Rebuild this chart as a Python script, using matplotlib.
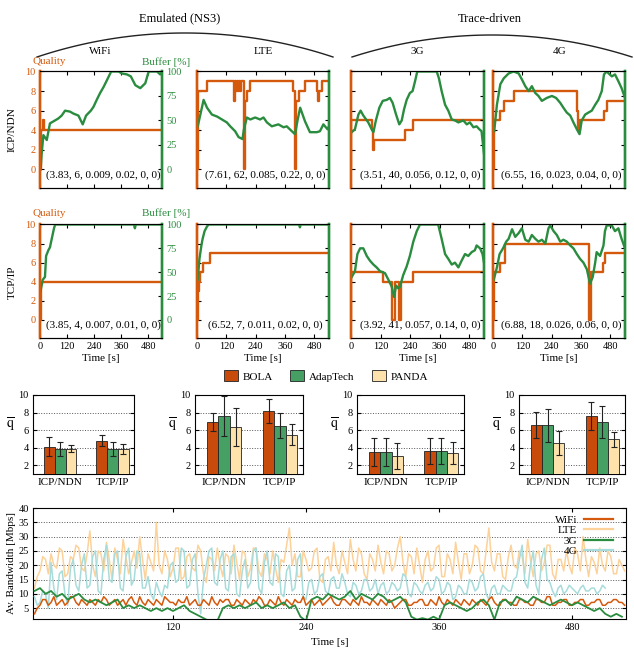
import numpy as np
import matplotlib.pyplot as plt
from matplotlib.lines import Line2D

plt.rcParams['font.family'] = ['Liberation Serif', 'DejaVu Serif']
plt.rcParams['mathtext.fontset'] = 'stix'

W, H = 634, 650

ORANGE = '#d4590c'
GREEN = '#2a8c3e'
BOLA_C = '#c84b0b'
ADAP_C = '#46a064'
PANDA_C = '#fde2ab'
LTE_C = '#fdd29a'
G4_C = '#a8dcdb'

# ---- quality (step) and buffer [%] traces, ICP/NDN row ----
wifi_icn_q_t = [0, 3, 13, 16]
wifi_icn_q = [0, 4, 5, 4]
wifi_icn_b_t = [3, 7, 15, 30, 44, 59, 81, 96, 111, 133, 148, 170, 189, 204, 225, 237,
                251, 266, 281, 296, 315, 348, 362, 385, 402, 422, 444, 466, 481, 518, 532, 540]
wifi_icn_b = [0, 15, 35, 30, 47, 49, 52, 55, 60, 59, 57, 55, 46, 55, 60, 64,
              71, 78, 84, 91, 100, 100, 98, 97, 95, 86, 83, 88, 100, 100, 97, 100]

lte_icn_q_t = [0, 3, 41, 150, 152, 156, 160, 164, 168, 172, 176, 182, 192, 196, 206, 218,
               394, 401, 405, 419, 442, 492, 496, 500, 510]
lte_icn_q = [0, 8, 9, 8, 7, 9, 8, 9, 8, 9, 8, 9, 0, 7, 8, 9,
             8, 0, 7, 8, 9, 8, 7, 8, 9]
lte_icn_b_t = [3, 27, 41, 61, 82, 102, 122, 136, 156, 170, 186, 192, 204, 218, 238, 258, 272,
               286, 306, 333, 354, 367, 388, 401, 412, 422, 442, 462, 490, 503, 517, 534, 540]
lte_icn_b = [44, 71, 63, 56, 54, 51, 48, 44, 39, 33, 31, 41, 53, 51, 53, 51, 53,
             48, 44, 46, 43, 44, 39, 36, 51, 63, 49, 38, 38, 39, 46, 41, 44]

g3_icn_q_t = [0, 2, 87, 91, 95, 219, 253]
g3_icn_q = [0, 5, 4, 2, 3, 4, 5]
g3_icn_b_t = [3, 16, 30, 39, 50, 70, 84, 91, 101, 115, 129, 145, 158, 169, 183, 196, 206, 215, 226, 239,
              250, 260, 269, 348, 357, 368, 382, 395, 409, 422, 436, 456, 470, 483, 497, 510, 521, 530, 540]
g3_icn_b = [38, 41, 56, 60, 55, 48, 41, 38, 50, 63, 70, 71, 73, 68, 56, 46, 50, 61, 71, 78,
            80, 90, 100, 100, 93, 80, 66, 60, 51, 50, 48, 50, 46, 48, 43, 44, 41, 39, 16]

g4_icn_q_t = [0, 5, 27, 44, 84, 345, 349, 356, 454, 465]
g4_icn_q = [0, 5, 6, 7, 8, 6, 4, 5, 6, 7]
g4_icn_b_t = [5, 16, 30, 44, 64, 84, 105, 118, 132, 146, 159, 173, 186, 200, 220, 241, 258, 275, 288,
              302, 316, 329, 343, 354, 363, 377, 390, 404, 418, 431, 445, 454, 465, 486, 499, 513, 526, 540]
g4_icn_b = [39, 66, 87, 93, 98, 100, 98, 92, 85, 80, 85, 78, 75, 70, 73, 75, 73, 68, 63,
            58, 55, 48, 41, 36, 50, 56, 58, 60, 66, 71, 80, 97, 100, 95, 97, 90, 83, 73]

# ---- TCP/IP row ----
wifi_tcp_q_t = [0, 3]
wifi_tcp_q = [0, 4]
wifi_tcp_b_t = [3, 12, 22, 27, 37, 44, 52, 62, 67, 416, 420, 424, 540]
wifi_tcp_b = [31, 42, 45, 67, 73, 76, 85, 96, 100, 100, 96, 100, 100]

lte_tcp_q_t = [0, 3, 7, 14, 23, 54]
lte_tcp_q = [0, 3, 4, 5, 6, 7]
lte_tcp_b_t = [3, 10, 18, 23, 31, 41, 48, 418, 421, 424, 540]
lte_tcp_b = [42, 64, 78, 85, 93, 98, 100, 100, 97, 100, 100]

g3_tcp_q_t = [0, 2, 131, 168, 180, 196, 203, 253]
g3_tcp_q = [0, 5, 4, 0, 4, 0, 4, 5]
g3_tcp_b_t = [3, 16, 26, 37, 50, 64, 77, 91, 104, 118, 138, 152, 165, 175, 183, 192, 199, 212, 226, 239,
              253, 267, 280, 354, 368, 382, 395, 409, 422, 436, 449, 463, 476, 490, 503, 510, 524, 534, 540]
g3_tcp_b = [45, 51, 69, 75, 75, 67, 62, 58, 55, 51, 49, 42, 35, 24, 36, 33, 35, 47, 56, 67,
            82, 93, 100, 100, 85, 69, 64, 58, 60, 55, 62, 69, 67, 71, 73, 78, 75, 69, 60]

g4_tcp_q_t = [0, 3, 5, 30, 50, 392, 400, 452, 458]
g4_tcp_q = [0, 4, 5, 6, 8, 0, 5, 6, 7]
g4_tcp_b_t = [3, 16, 27, 41, 54, 64, 78, 91, 105, 118, 132, 146, 159, 173, 186, 200, 214, 227, 234, 248,
              261, 275, 288, 302, 316, 329, 343, 356, 370, 384, 397, 408, 418, 424, 438, 452, 458, 465,
              486, 499, 513, 526, 540]
g4_tcp_b = [42, 55, 69, 75, 82, 85, 95, 87, 91, 96, 84, 82, 89, 85, 82, 84, 80, 96, 99, 93,
            89, 82, 84, 82, 78, 75, 69, 64, 60, 53, 38, 45, 60, 71, 67, 78, 93, 99,
            99, 93, 96, 85, 75]

notes_icn = ['(3.83, 6, 0.009, 0.02, 0, 0)', '(7.61, 62, 0.085, 0.22, 0, 0)',
             '(3.51, 40, 0.056, 0.12, 0, 0)', '(6.55, 16, 0.023, 0.04, 0, 0)']
notes_tcp = ['(3.85, 4, 0.007, 0.01, 0, 0)', '(6.52, 7, 0.011, 0.02, 0, 0)',
             '(3.92, 41, 0.057, 0.14, 0, 0)', '(6.88, 18, 0.026, 0.06, 0, 0)']

# ---- mean quality bars (rows: BOLA, AdapTech, PANDA; cols: ICP/NDN, TCP/IP) ----
bar_groups = ['ICP/NDN', 'TCP/IP']
algos = ['BOLA', 'AdapTech', 'PANDA']
bar_wifi_mean = [[4.1, 4.8], [3.85, 3.85], [3.9, 3.85]]
bar_wifi_err = [[1.1, 0.6], [0.75, 0.75], [0.4, 0.55]]
bar_lte_mean = [[6.9, 8.2], [7.6, 6.5], [6.35, 5.5]]
bar_lte_err = [[1.0, 1.4], [2.3, 1.45], [2.15, 1.15]]
bar_3g_mean = [[3.5, 3.6], [3.55, 3.6], [3.05, 3.4]]
bar_3g_err = [[1.6, 1.45], [1.6, 1.5], [1.45, 1.25]]
bar_4g_mean = [[6.6, 7.6], [6.55, 6.9], [4.55, 4.95]]
bar_4g_err = [[1.5, 1.6], [1.85, 1.85], [1.35, 0.85]]

# ---- available bandwidth [Mbps]; WiFi/LTE/4G every 2.5 s, 3G every 5 s, from t=-5 ----
bw_wifi = [3, 5, 6, 8, 8, 6, 7, 9, 6, 7, 8, 6, 7, 9, 9, 7, 6, 8, 7, 6,
           8, 7, 6, 8, 7, 9, 8, 6, 7, 8, 6, 7, 8, 6, 8, 9, 7, 6, 9, 7,
           6, 8, 7, 6, 8, 7, 6, 9, 8, 7, 7, 6, 8, 7, 7, 9, 6, 7, 8, 6,
           6, 8, 7, 6, 9, 7, 6, 8, 7, 8, 8, 6, 6, 8, 7, 6, 8, 7, 6, 8,
           7, 9, 8, 6, 6, 8, 7, 6, 9, 7, 6, 8, 7, 6, 8, 7, 7, 9, 6, 7,
           8, 6, 7, 8, 6, 7, 8, 9, 7, 6, 6, 8, 8, 7, 6, 8, 7, 6, 9, 7,
           7, 6, 8, 7, 6, 8, 7, 6, 8, 7, 5, 6, 7, 8, 8, 6, 6, 7, 7, 8,
           8, 6, 6, 8, 7, 6, 9, 7, 6, 8, 7, 6, 8, 7, 6, 8, 7, 6, 8, 7,
           6, 8, 7, 6, 8, 9, 7, 6, 6, 8, 8, 7, 7, 6, 6, 8, 8, 7, 7, 6,
           6, 8, 8, 7, 7, 9, 9, 6, 6, 7, 7, 8, 8, 6, 6, 7, 7, 8, 8, 6,
           6, 7, 7, 8, 8, 6, 6, 7, 7, 8, 8, 7, 7, 6]
bw_lte = [12, 16, 18, 23, 22, 17, 24, 20, 19, 26, 25, 16, 17, 23, 22, 27, 26, 19, 18, 24,
          32, 20, 16, 25, 24, 18, 28, 22, 15, 26, 22, 17, 29, 23, 17, 21, 25, 19, 30, 22,
          15, 24, 21, 18, 35, 20, 17, 25, 22, 16, 19, 26, 26, 15, 16, 23, 24, 19, 18, 27,
          25, 17, 14, 23, 22, 18, 26, 20, 16, 24, 23, 17, 27, 21, 15, 25, 24, 16, 19, 26,
          26, 18, 16, 24, 22, 17, 25, 19, 14, 22, 21, 27, 33, 20, 24, 16, 16, 25, 22, 18,
          19, 25, 26, 15, 14, 22, 23, 18, 28, 20, 17, 25, 21, 17, 29, 22, 18, 26, 24, 17,
          15, 24, 22, 18, 27, 21, 17, 25, 24, 18, 20, 26, 30, 21, 16, 24, 23, 17, 26, 20,
          14, 22, 25, 18, 19, 26, 27, 16, 16, 24, 22, 17, 28, 21, 15, 24, 24, 17, 20, 27,
          26, 18, 17, 25, 33, 21, 18, 24, 24, 16, 15, 23, 27, 20, 19, 25, 23, 17, 29, 22,
          16, 24, 25, 18, 21, 27, 27, 17, 15, 22, 22, 18, 25, 20, 17, 26, 24, 18, 30, 22,
          16, 23, 21, 17, 26, 20, 18, 25, 23, 17, 17, 22, 20, 18]
bw_3g = [11, 12, 10, 11, 9, 10, 8, 9, 10, 8,
         7, 8, 7, 6, 7, 8, 5, 6, 5, 6,
         5, 4, 5, 4, 5, 4, 5, 6, 4, 3,
         2, 1, 0.5, 0.5, 5, 6, 5, 6, 5, 6,
         7, 5, 6, 5, 6, 7, 5, 6, 2, 0.5,
         8, 9, 8, 10, 9, 8, 9, 11, 8, 10,
         9, 8, 10, 9, 7, 8, 9, 7, 2, 1,
         1.5, 1, 2, 1, 6, 7, 6, 5, 4, 5,
         7, 8, 6, 1, 7, 8, 6, 9, 8, 7,
         9, 8, 7, 6, 7, 8, 7, 6, 7, 6,
         5, 4, 5, 3, 2, 3, 2]
bw_4g = [9, 6, 7, 11, 10, 5, 21, 12, 8, 17, 18, 10, 6, 19, 22, 13, 11, 20, 24, 12,
         13, 23, 25, 11, 10, 22, 27, 15, 14, 24, 25, 12, 11, 23, 26, 13, 15, 25, 24, 12,
         12, 16, 10, 8, 14, 11, 9, 13, 12, 20, 21, 14, 15, 26, 25, 12, 13, 22, 24, 10,
         3, 15, 20, 25, 26, 14, 13, 22, 25, 12, 11, 23, 24, 10, 9, 18, 22, 12, 14, 25,
         26, 12, 10, 21, 25, 14, 13, 24, 23, 10, 9, 18, 20, 11, 12, 22, 24, 9, 8, 14,
         15, 10, 11, 16, 17, 11, 10, 15, 16, 12, 12, 17, 14, 10, 9, 14, 13, 10, 11, 15,
         15, 11, 12, 15, 10, 13, 14, 10, 11, 14, 13, 11, 12, 17, 16, 10, 9, 14, 13, 11,
         10, 13, 14, 11, 12, 16, 15, 10, 11, 14, 13, 8, 9, 13, 12, 10, 10, 15, 14, 11,
         12, 16, 17, 10, 8, 12, 13, 10, 10, 13, 12, 11, 11, 15, 16, 22, 27, 14, 12, 20,
         25, 13, 10, 22, 26, 15, 14, 11, 9, 12, 13, 10, 11, 13, 12, 11, 10, 12, 13, 11,
         11, 12, 12, 10, 11, 13, 12]


def rect(l, t, r, b):
    return [l / W, 1 - b / H, (r - l) / W, (b - t) / H]


def line_panel(ax, q_t, q, b_t, b, note, first_col, bottom_row):
    ax2 = ax.twinx()
    ax.step(q_t + [540], q + [q[-1]], where='post', color=ORANGE, lw=1.7)
    ax2.plot(b_t, b, color=GREEN, lw=1.7)
    ax.set_xlim(0, 540)
    ax.set_ylim(-1.9, 10.05)
    ax2.set_ylim(-19, 100.5)
    ax.set_xticks([0, 120, 240, 360, 480])
    ax.set_yticks(range(0, 11, 2))
    ax2.set_yticks([0, 25, 50, 75, 100])
    ax.tick_params(direction='in', length=3, top=True, labelsize=7.5,
                   labelbottom=bottom_row, labelleft=first_col, pad=3)
    ax.tick_params(axis='y', labelcolor=ORANGE)
    ax2.tick_params(direction='in', length=3, labelsize=7.5, labelright=first_col,
                    labelcolor=GREEN, pad=3)
    for a in (ax, ax2):
        a.spines['left'].set_color(ORANGE)
        a.spines['left'].set_linewidth(1.7)
        a.spines['right'].set_color(GREEN)
        a.spines['right'].set_linewidth(1.7)
        a.spines['top'].set_linewidth(0.8)
        a.spines['bottom'].set_linewidth(0.8)
    ax.text(0.52, 0.11, note, transform=ax.transAxes, ha='center', va='center',
            fontsize=8, zorder=5)
    if bottom_row:
        ax.set_xlabel('Time [s]', fontsize=8, labelpad=2)


def bar_panel(ax, means, errs):
    x = np.arange(len(bar_groups))
    colors = [BOLA_C, ADAP_C, PANDA_C]
    bars = []
    for i in range(3):
        bars.append(ax.bar(x + (i - 1) * 0.205, means[i], 0.205, yerr=errs[i], color=colors[i],
                           edgecolor='#222222', lw=0.6, capsize=2.5, zorder=3,
                           error_kw=dict(lw=0.8, capthick=0.8, ecolor='#222222'), label=algos[i]))
    ax.set_xlim(-0.52, 1.41)
    ax.set_ylim(1, 10)
    ax.set_yticks([2, 4, 6, 8, 10])
    ax.set_xticks(x)
    ax.set_xticklabels(bar_groups)
    ax.grid(axis='y', ls=':', color='#555555', lw=0.7, zorder=0)
    ax.tick_params(axis='y', direction='in', right=True, length=3, labelsize=7.5, pad=3)
    ax.tick_params(axis='x', length=0, labelsize=8, pad=3)
    ax.annotate(r'$\overline{\mathrm{q}}$', xy=(0, 0.62), xycoords='axes fraction',
                xytext=(-18, 0), textcoords='offset pixels', ha='right', va='center', fontsize=10)
    return bars


fig = plt.figure(figsize=(W / 100, H / 100), dpi=100)

# header overlay in pixel coordinates
ov = fig.add_axes([0, 0, 1, 1], zorder=-1)
ov.set_xlim(0, W)
ov.set_ylim(H, 0)
ov.axis('off')
for x0, x1, sag in [(37, 333, 24), (352, 632, 22)]:
    half = (x1 - x0) / 2
    rad = (half ** 2 + sag ** 2) / (2 * sag)
    ang = np.arcsin(half / rad)
    th = np.linspace(-ang, ang, 80)
    cx = (x0 + x1) / 2
    ov.plot(cx + rad * np.sin(th), 57 - sag + rad * (1 - np.cos(th)), color='#222222', lw=1.0)
ov.text(180, 18, 'Emulated (NS3)', ha='center', va='center', fontsize=9)
ov.text(490, 19, 'Trace-driven', ha='center', va='center', fontsize=9)
for xc, name in zip([100, 263, 417, 560], ['WiFi', 'LTE', '3G', '4G']):
    ov.text(xc, 51, name, ha='center', va='center', fontsize=8)
for yy in (62, 213):
    ov.text(49, yy, 'Quality', ha='center', va='center', fontsize=8, color=ORANGE)
    ov.text(166, yy, 'Buffer [%]', ha='center', va='center', fontsize=8, color=GREEN)
ov.text(12, 130, 'ICP/NDN', rotation=90, ha='center', va='center', fontsize=8)
ov.text(12, 282, 'TCP/IP', rotation=90, ha='center', va='center', fontsize=8)

cols = [(40, 162), (197, 329), (351, 484), (493, 625)]
icn_data = [(wifi_icn_q_t, wifi_icn_q, wifi_icn_b_t, wifi_icn_b),
            (lte_icn_q_t, lte_icn_q, lte_icn_b_t, lte_icn_b),
            (g3_icn_q_t, g3_icn_q, g3_icn_b_t, g3_icn_b),
            (g4_icn_q_t, g4_icn_q, g4_icn_b_t, g4_icn_b)]
tcp_data = [(wifi_tcp_q_t, wifi_tcp_q, wifi_tcp_b_t, wifi_tcp_b),
            (lte_tcp_q_t, lte_tcp_q, lte_tcp_b_t, lte_tcp_b),
            (g3_tcp_q_t, g3_tcp_q, g3_tcp_b_t, g3_tcp_b),
            (g4_tcp_q_t, g4_tcp_q, g4_tcp_b_t, g4_tcp_b)]
for i, (l, r) in enumerate(cols):
    ax = fig.add_axes(rect(l, 71, r, 188))
    line_panel(ax, *icn_data[i], notes_icn[i], i == 0, False)
    ax = fig.add_axes(rect(l, 224, r, 338))
    line_panel(ax, *tcp_data[i], notes_tcp[i], i == 0, True)

bar_rects = [(33, 134), (195, 303), (357, 464), (519, 625)]
bar_data = [(bar_wifi_mean, bar_wifi_err), (bar_lte_mean, bar_lte_err),
            (bar_3g_mean, bar_3g_err), (bar_4g_mean, bar_4g_err)]
for (l, r), (m, e) in zip(bar_rects, bar_data):
    ax = fig.add_axes(rect(l, 395, r, 474))
    bars = bar_panel(ax, m, e)
    if l == 33:
        legend_bars = bars

fig.legend([b[0] for b in legend_bars], algos, loc='center', bbox_to_anchor=(326 / W, 1 - 376 / H),
           ncol=3, frameon=False, fontsize=8, handlelength=1.25, handleheight=1.1,
           columnspacing=1.6, handletextpad=0.4)

# bandwidth traces
ax = fig.add_axes(rect(33, 508, 626, 619))
t_fine = np.arange(-5, 530, 2.5)
t_coarse = np.arange(-5, 530, 5)
ax.plot(t_fine, bw_lte, color=LTE_C, lw=1.1, zorder=2)
ax.plot(t_fine[:len(bw_4g)], bw_4g, color=G4_C, lw=1.1, zorder=3)
ax.plot(t_fine, bw_wifi, color=ORANGE, lw=1.1, zorder=4)
ax.plot(t_coarse, bw_3g, color=GREEN, lw=1.3, zorder=5)
ax.set_xlim(-6.3, 528.7)
ax.set_ylim(1.2, 40)
ax.set_xticks([120, 240, 360, 480])
ax.set_yticks(range(5, 41, 5))
ax.grid(axis='y', ls=':', color='#555555', lw=0.7)
ax.tick_params(direction='in', length=3, right=True, top=True, labelsize=7.5, pad=3)
ax.set_ylabel('Av. Bandwidth [Mbps]', fontsize=8, labelpad=2)
ax.set_xlabel('Time [s]', fontsize=8, labelpad=4)
handles = [Line2D([], [], color=c, lw=1.6) for c in (ORANGE, LTE_C, GREEN, G4_C)]
ax.legend(handles, ['WiFi', 'LTE', '3G', '4G'], loc='upper right', bbox_to_anchor=(0.985, 0.975),
          markerfirst=False, frameon=False, fontsize=8, handlelength=2.6, labelspacing=0.05,
          borderaxespad=0, handletextpad=0.6)

fig.savefig('out.png', dpi=100)
